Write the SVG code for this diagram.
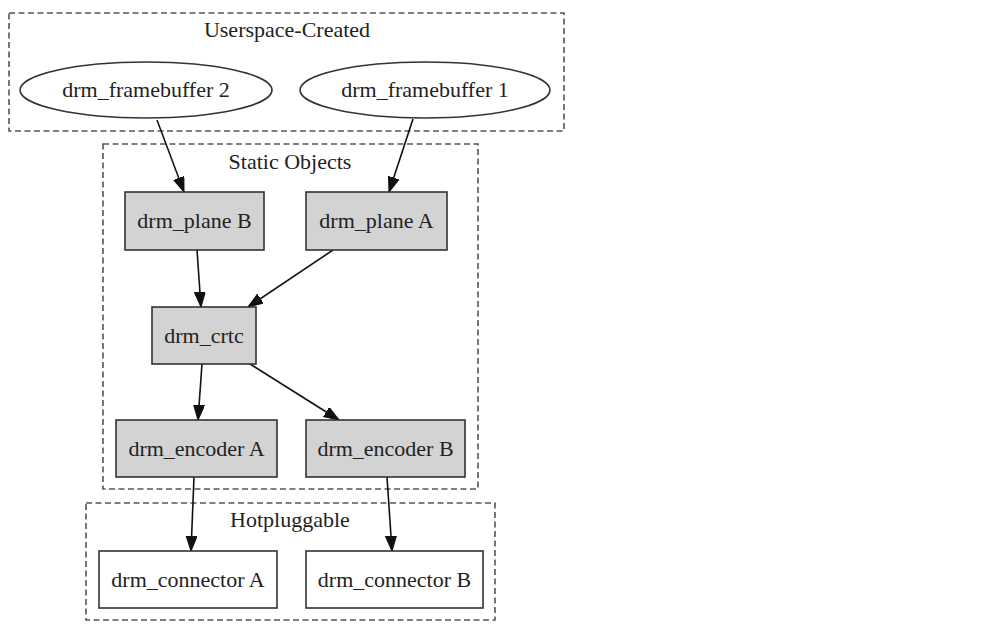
<svg xmlns="http://www.w3.org/2000/svg" width="996" height="631" viewBox="0 0 996 631">
<style>
.cl{fill:none;stroke:#555;stroke-width:1.6;stroke-dasharray:6,3.5}
.nd{fill:#d3d3d3;stroke:#333;stroke-width:1.6}
.nw{fill:#fff;stroke:#333;stroke-width:1.6}
.t{font-family:"Liberation Serif","Times New Roman",serif;font-size:22px;fill:#222;text-anchor:middle}
.e{fill:none;stroke:#111;stroke-width:1.6;marker-end:url(#ah)}
</style>
<defs>
<marker id="ah" markerUnits="userSpaceOnUse" markerWidth="17" markerHeight="13" refX="15" refY="5.5" orient="auto">
<path d="M0,0 L15,5.5 L0,11 z" fill="#111" stroke="#111" stroke-width="1"/>
</marker>
</defs>
<rect width="996" height="631" fill="#fff"/>
<g id="clusters">
<g id="cluster-userspace"><rect class="cl" x="9" y="13" width="555" height="118"/><text class="t" x="287" y="37">Userspace-Created</text></g>
<g id="cluster-static"><rect class="cl" x="103" y="144" width="375" height="345"/><text class="t" x="290" y="169">Static Objects</text></g>
<g id="cluster-hot"><rect class="cl" x="86" y="503" width="409" height="117"/><text class="t" x="290" y="527">Hotpluggable</text></g>
</g>
<g id="connectors">
<path class="e" d="M157,120 L184,192"/>
<path class="e" d="M413,119 L389,192"/>
<path class="e" d="M197,250 L201,307"/>
<path class="e" d="M333,250 L248,307"/>
<path class="e" d="M202,364 L198,420"/>
<path class="e" d="M250,364 L339,420"/>
<path class="e" d="M194,477 L191,551"/>
<path class="e" d="M387,477 L392,551"/>
</g>
<g id="fb2"><ellipse class="nw" cx="146" cy="90" rx="126" ry="28"/><text class="t" x="146" y="97">drm_framebuffer 2</text></g>
<g id="fb1"><ellipse class="nw" cx="425" cy="90" rx="125" ry="28"/><text class="t" x="425" y="97">drm_framebuffer 1</text></g>
<g id="planeB"><rect class="nd" x="125" y="192" width="139" height="58"/><text class="t" x="194.5" y="228">drm_plane B</text></g>
<g id="planeA"><rect class="nd" x="306" y="192" width="141" height="58"/><text class="t" x="376.5" y="228">drm_plane A</text></g>
<g id="crtc"><rect class="nd" x="152" y="307" width="104" height="57"/><text class="t" x="204" y="343">drm_crtc</text></g>
<g id="encA"><rect class="nd" x="116" y="420" width="161" height="57"/><text class="t" x="196.5" y="456">drm_encoder A</text></g>
<g id="encB"><rect class="nd" x="306" y="420" width="159" height="57"/><text class="t" x="385.5" y="456">drm_encoder B</text></g>
<g id="conA"><rect class="nw" x="99" y="551" width="178" height="57"/><text class="t" x="188" y="587">drm_connector A</text></g>
<g id="conB"><rect class="nw" x="306" y="551" width="177" height="57"/><text class="t" x="394.5" y="587">drm_connector B</text></g>
</svg>
